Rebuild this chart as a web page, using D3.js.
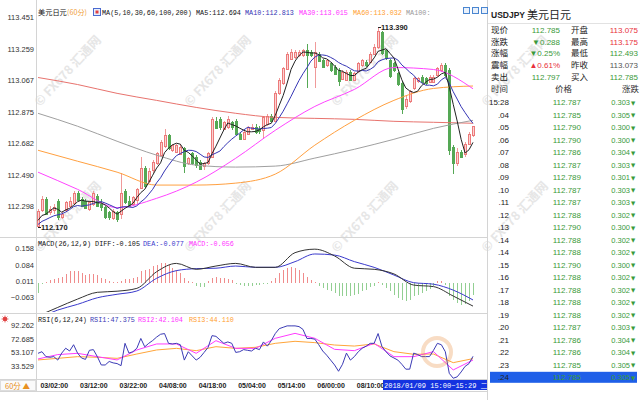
<!DOCTYPE html>
<html>
<head>
<meta charset="utf-8">
<script src="https://cdn.jsdelivr.net/npm/d3@7"></script>
<style>
  body { margin: 0; background: #fff; }
  svg { display: block; }
</style>
</head>
<body>
<svg width="640" height="400"></svg>
<script>
const svg = d3.select('svg');

// ---- hourly candles, 03/01:00 .. 09/15:00 ----
const opens = [
  112.18,112.27,112.34,112.26,112.27,112.33,112.23,112.27,112.30,112.32,
  112.38,112.34,112.33,112.28,112.31,112.36,112.31,112.29,112.26,112.23,
  112.26,112.25,112.39,112.33,112.31,112.33,112.41,112.53,112.45,112.52,
  112.56,112.61,112.66,112.73,112.64,112.63,112.62,112.65,112.56,112.62,
  112.60,112.57,112.54,112.56,112.60,112.82,112.83,112.77,112.78,112.81,
  112.82,112.74,112.71,112.74,112.77,112.78,112.77,112.76,112.80,112.85,
  112.82,112.99,113.05,113.14,113.20,113.21,113.22,113.22,113.25,113.24,
  113.15,113.23,113.19,113.16,113.17,113.15,113.13,113.08,113.07,113.12,
  113.07,113.12,113.16,113.18,113.18,113.23,113.27,113.36,113.25,113.19,
  113.17,113.11,113.05,112.91,112.94,113.02,113.06,113.09,113.08,113.06,
  113.06,113.10,113.13,113.16,113.13,112.66,112.56,112.63,112.62,112.68,112.73];
const highs = [
  112.28,112.36,112.35,112.30,112.31,112.34,112.27,112.33,112.35,112.39,
  112.39,112.35,112.34,112.33,112.39,112.37,112.34,112.30,112.27,112.28,
  112.27,112.50,112.40,112.36,112.36,112.41,112.60,112.54,112.53,112.58,
  112.63,112.70,112.77,112.74,112.68,112.68,112.68,112.66,112.60,112.63,
  112.61,112.58,112.57,112.63,112.84,112.84,112.84,112.82,112.85,112.82,
  112.83,112.75,112.76,112.79,112.80,112.80,112.79,112.85,112.86,112.86,
  113.00,113.08,113.15,113.24,113.26,113.25,113.25,113.26,113.29,113.25,
  113.30,113.24,113.20,113.20,113.18,113.16,113.14,113.13,113.13,113.13,
  113.12,113.18,113.20,113.19,113.24,113.29,113.39,113.37,113.26,113.20,
  113.18,113.12,113.06,112.97,113.01,113.09,113.09,113.10,113.09,113.10,
  113.10,113.15,113.175,113.17,113.14,112.67,112.65,112.64,112.69,112.75,112.79];
const lows = [
  112.17,112.26,112.24,112.24,112.25,112.21,112.22,112.26,112.29,112.31,
  112.33,112.29,112.28,112.27,112.30,112.29,112.27,112.22,112.21,112.21,
  112.20,112.22,112.31,112.29,112.30,112.31,112.40,112.41,112.44,112.50,
  112.55,112.60,112.65,112.64,112.63,112.62,112.61,112.50,112.55,112.55,
  112.53,112.52,112.52,112.55,112.59,112.77,112.76,112.76,112.77,112.76,
  112.73,112.70,112.70,112.73,112.76,112.74,112.74,112.71,112.79,112.81,
  112.81,112.98,113.04,113.13,113.19,113.20,113.21,113.21,113.02,113.21,
  113.02,113.18,113.14,113.15,113.12,113.10,113.03,113.07,113.06,113.06,
  113.06,113.11,113.15,113.15,113.17,113.22,113.26,113.22,113.19,113.08,
  113.12,113.03,112.86,112.89,112.93,113.01,113.05,113.05,113.04,113.05,
  113.05,113.09,113.12,113.09,112.61,112.493,112.54,112.59,112.60,112.67,112.72];
const closes = [
  112.27,112.34,112.25,112.28,112.29,112.23,112.25,112.32,112.33,112.38,
  112.34,112.30,112.29,112.32,112.38,112.30,112.29,112.23,112.23,112.27,
  112.22,112.38,112.32,112.30,112.35,112.40,112.53,112.42,112.51,112.57,
  112.62,112.69,112.73,112.65,112.67,112.67,112.66,112.54,112.59,112.56,
  112.55,112.53,112.56,112.62,112.83,112.78,112.78,112.81,112.83,112.78,
  112.74,112.71,112.75,112.78,112.78,112.75,112.76,112.84,112.85,112.82,
  112.99,113.07,113.14,113.23,113.24,113.24,113.24,113.25,113.22,113.22,
  113.24,113.19,113.15,113.19,113.13,113.11,113.06,113.12,113.12,113.07,
  113.11,113.17,113.19,113.16,113.23,113.27,113.37,113.23,113.20,113.09,
  113.13,113.04,112.89,112.95,113.00,113.08,113.08,113.06,113.05,113.09,
  113.09,113.14,113.16,113.10,112.64,112.56,112.63,112.60,112.68,112.74,112.785];
// closes of the 9 hours before the window (for MA5 / MA10 warm-up)
const priorCloses = [112.15,112.14,112.16,112.18,112.17,112.19,112.21,112.18,112.20];

// long moving averages, read every 10 candles
const maIdx = [0,10,20,30,40,50,60,70,80,90,100,110];
const ma30  = [112.505,112.400,112.288,112.345,112.444,112.590,112.761,112.907,113.011,113.145,113.133,113.015];
const ma60  = [112.639,112.572,112.505,112.426,112.426,112.438,112.493,112.670,112.822,112.944,113.017,113.032];
const ma100 = [112.865,112.786,112.694,112.609,112.548,112.536,112.542,112.591,112.645,112.706,112.773,112.822];
const ma200 = [113.084,113.041,112.987,112.944,112.901,112.865,112.840,112.834,112.828,112.816,112.810,112.804];

// MACD / RSI smooth lines, read every 5 candles
const subIdx = [0,5,10,15,20,25,30,35,40,45,50,55,60,65,70,75,80,85,90,95,100,105,110];
const diffLine = [-0.150,-0.111,-0.073,-0.042,-0.037,-0.024,0.052,0.090,0.063,0.078,0.090,0.072,0.072,0.139,0.155,0.124,0.068,0.063,0.042,-0.009,-0.016,-0.059,-0.105];
const deaLine  = [-0.160,-0.123,-0.097,-0.067,-0.051,-0.036,0.022,0.057,0.066,0.068,0.078,0.072,0.072,0.098,0.133,0.128,0.098,0.072,0.037,0.002,-0.005,-0.032,-0.077];
const macdBars = [
  -0.043,-0.005,0.003,0.015,0.020,0.023,0.030,0.041,0.053,0.057,
  0.053,0.046,0.038,0.043,0.043,0.038,0.023,0.018,0.008,0.005,
  0.003,0.008,0.018,0.020,0.023,0.030,0.053,0.061,0.064,0.076,
  0.084,0.094,0.091,0.084,0.069,0.058,0.046,0.023,0.008,0.003,
  -0.015,-0.018,-0.020,0.008,0.023,0.030,0.023,0.023,0.018,0.012,
  -0.005,-0.008,-0.012,-0.012,-0.011,-0.009,-0.008,-0.005,-0.003,0.008,
  0.023,0.046,0.061,0.069,0.072,0.069,0.061,0.046,0.027,0.015,
  0.006,-0.015,-0.023,-0.030,-0.038,-0.046,-0.058,-0.061,-0.061,-0.058,
  -0.053,-0.049,-0.038,-0.030,-0.018,-0.012,0.003,-0.008,-0.023,-0.038,
  -0.053,-0.069,-0.079,-0.084,-0.076,-0.061,-0.053,-0.046,-0.038,-0.027,
  -0.015,0.008,0.008,-0.008,-0.061,-0.076,-0.091,-0.099,-0.094,-0.084,-0.056];
const rsi1 = [
  51.7,54,47,46,47,42,52,59,55,64,
  52,45,43,56,57,47,35,35,40,38,
  37,34,66,52,54,59,73,61,66,70,
  75,79,80,66,65,66,64,42,54,48,
  42,46,53,60,77,76,71,66,68,66,
  53,54,57,56,55,59,57,68,62,70,
  80,87,89,91,91,91,90,86,73,73,
  72,64,55,49,42,35,26,36,52,42,
  47,54,59,62,66,66,80,61,54,48,
  45,42,36,29,29,52,50,47,47,47,
  56,66,64,54,23,16,18,25,33,37,47.4];
const rsi2 = [43.6,49.9,51.7,46.9,42.2,56.5,65.1,65.1,51.7,69.8,58.8,58.8,73.2,80.3,73.2,57.4,55.5,66.0,46.9,46.9,54.1,27.9,42.1];
const rsi3 = [42.2,44.5,46.9,46.0,44.5,50.7,56.5,58.8,55.5,61.2,58.8,60.3,66.0,68.9,67.0,63.6,62.1,65.1,54.1,50.3,50.7,38.3,44.1];

// axis labels
const priceTicks = [113.451,113.259,113.067,112.875,112.682,112.490,112.298];
const macdTicks = [0.158,0.084,0.011,-0.063];
const rsiTicks = [92.262,72.685,53.107,33.529];
const timeTickIdx = [1,11,21,31,41,51,61,71,81];
const timeTickLabels = ['03/02:00','03/12:00','03/22:00','04/08:00','04/18:00','05/04:00','05/14:00','06/00:00','08/10:00'];

// right-hand quote panel
const quoteNamesL = ['现价','涨跌','涨幅','震幅','卖出'];
const quoteValsL = ['112.785','▼0.288','▼0.25%','▲0.61%','112.797'];
const quoteNamesR = ['开盘','最高','最低','昨收','买入'];
const quoteValsR = ['113.075','113.175','112.493','113.073','112.785'];
const tickTimes = ['15:28','.04','.05','.06','.07','.08','.09','.10','.11','.12','.13','.14','.14','.15','.16','.17','.18','.19','.20','.21','.22','.23','.24'];
const tickPrices = [112.787,112.785,112.790,112.790,112.786,112.787,112.789,112.787,112.787,112.788,112.790,112.788,112.788,112.790,112.788,112.788,112.788,112.788,112.787,112.786,112.786,112.785,112.785];
const tickChanges = [0.303,0.305,0.300,0.300,0.304,0.303,0.301,0.303,0.303,0.302,0.300,0.302,0.302,0.300,0.302,0.302,0.302,0.302,0.303,0.304,0.304,0.305,0.305];

const GREEN = '#3a9a3a', RED = '#e8323c';
const SANS = 'Liberation Sans, Arial, sans-serif';
const MONO = 'Liberation Mono, Noto Sans CJK SC, monospace';
const CJK = 'Noto Sans CJK SC, sans-serif';

// ---- scales ----
const xc = d3.scaleLinear().domain([0, 110]).range([38, 473]);
const yMain = d3.scaleLinear().domain([112.298, 113.451]).range([206, 17.5]);
const yMacd = d3.scaleLinear().domain([-0.063, 0.158]).range([296.9, 248.5]);
const yRsi = d3.scaleLinear().domain([33.529, 92.262]).range([366, 325]);
const px = i => Math.round(xc(i)) + 0.5;

// ---- background watermarks ----
const wm = svg.append('g').attr('fill', '#e6e6e6').attr('font-family', CJK)
  .attr('font-size', 12.5).attr('font-weight', 'bold');
[[40, 107], [190, 107], [337, 107], [487, 107], [40, 253], [190, 253], [337, 253], [487, 253]]
  .forEach(([x, y]) =>
    wm.append('text').attr('transform', `translate(${x},${y}) rotate(-47)`).text('© FX678 汇通网'));

// ---- frame lines ----
const frame = svg.append('g').attr('stroke', '#d4d4d4').attr('shape-rendering', 'crispEdges');
frame.append('line').attr('x1', 36.5).attr('x2', 36.5).attr('y1', 0).attr('y2', 392);
frame.append('line').attr('x1', 487.5).attr('x2', 487.5).attr('y1', 0).attr('y2', 400);
[237.5, 313.5, 379.5, 391.5].forEach(y =>
  frame.append('line').attr('x1', 0).attr('x2', 487).attr('y1', y).attr('y2', y));

// clip regions
const defs = svg.append('defs');
defs.append('clipPath').attr('id', 'clipMain').append('rect').attr('x', 37).attr('y', 0).attr('width', 450).attr('height', 237);
defs.append('clipPath').attr('id', 'clipMacd').append('rect').attr('x', 37).attr('y', 246).attr('width', 450).attr('height', 66);
defs.append('clipPath').attr('id', 'clipRsi').append('rect').attr('x', 37).attr('y', 322).attr('width', 450).attr('height', 57);

// ---- candles ----
const candleData = closes.map((c, i) => ({ i, o: opens[i], h: highs[i], l: lows[i], c }));
const main = svg.append('g').attr('clip-path', 'url(#clipMain)');
const cg = main.append('g').attr('shape-rendering', 'crispEdges');
const upCol = '#ec7a7a', downCol = '#55a855';

cg.selectAll('line.wick').data(candleData).enter().append('line')
  .attr('x1', d => px(d.i)).attr('x2', d => px(d.i))
  .attr('y1', d => yMain(d.h)).attr('y2', d => yMain(d.l))
  .attr('stroke', d => d.c >= d.o ? '#f09a9a' : downCol);

cg.selectAll('rect.body').data(candleData).enter().append('rect')
  .attr('x', d => Math.round(xc(d.i)) - 0.5)
  .attr('width', 2)
  .attr('y', d => Math.round(yMain(Math.max(d.o, d.c))) + 0.5)
  .attr('height', d => Math.max(1, Math.round(Math.abs(yMain(d.o) - yMain(d.c)))))
  .attr('fill', d => d.c >= d.o ? '#fbd3d3' : downCol)
  .attr('stroke', d => d.c >= d.o ? upCol : downCol);

// ---- moving averages ----
const allCloses = priorCloses.concat(closes);
const rolling = n => closes.map((c, i) =>
  d3.mean(allCloses.slice(i + priorCloses.length - n + 1, i + priorCloses.length + 1)));
const ma5 = rolling(5), ma10 = rolling(10);

const lineFor = (scale, curve) => d3.line()
  .x(d => xc(d[0])).y(d => scale(d[1])).curve(curve || d3.curveLinear);
const drawLine = (g, pts, scale, color, curve) =>
  g.append('path').datum(pts).attr('fill', 'none').attr('stroke', color)
    .attr('stroke-width', 1).attr('d', lineFor(scale, curve));

const zipIdx = (idx, vals) => vals.map((v, k) => [idx[k], v]);
drawLine(main, zipIdx(maIdx, ma200), yMain, '#e8736e', d3.curveMonotoneX);
drawLine(main, zipIdx(maIdx, ma100), yMain, '#a0a0a0', d3.curveMonotoneX);
drawLine(main, zipIdx(maIdx, ma60), yMain, '#ffa040', d3.curveMonotoneX);
drawLine(main, zipIdx(maIdx, ma30), yMain, '#ff44ff', d3.curveMonotoneX);
drawLine(main, ma10.map((v, i) => [i, v]), yMain, '#3535b5');
drawLine(main, ma5.map((v, i) => [i, v]), yMain, '#222');

// high / low markers
const hiIdx = d3.maxIndex(highs), loIdx = d3.minIndex(lows);
[[hiIdx, highs[hiIdx]], [loIdx, lows[loIdx]]].forEach(([i, v]) => {
  main.append('line').attr('x1', xc(i)).attr('x2', xc(i) + 3)
    .attr('y1', Math.round(yMain(v)) + 0.5).attr('y2', Math.round(yMain(v)) + 0.5)
    .attr('stroke', '#222');
  main.append('text').attr('x', xc(i) + 3).attr('y', yMain(v)).attr('dy', '0.35em')
    .attr('font-family', SANS).attr('font-size', 7.5).attr('font-weight', 'bold')
    .attr('fill', '#222').text(d3.format('.3f')(v));
});

// ---- y axes ----
const yAxisAt = (scale, ticks) => {
  const g = svg.append('g').attr('transform', 'translate(35,0)')
    .call(d3.axisLeft(scale).tickValues(ticks).tickFormat(d3.format('.3f')).tickSize(0).tickPadding(1));
  g.select('.domain').remove();
  g.selectAll('text').attr('font-family', SANS).attr('font-size', 7.5).attr('fill', '#333');
};
yAxisAt(yMain, priceTicks);
yAxisAt(yMacd, macdTicks);
yAxisAt(yRsi, rsiTicks);

// ---- main header ----
const header = (x, y, str, color, font) =>
  svg.append('text').attr('x', x).attr('y', y).attr('font-family', font || MONO)
    .attr('font-size', 6.8).attr('fill', color).text(str);
header(38, 15, '美元日元', '#111', CJK).attr('font-size', 7.2);
header(67, 15, '(60分)', '#f0a040', CJK).attr('font-size', 7.2);
svg.append('rect').attr('x', 93.5).attr('y', 8.5).attr('width', 7).attr('height', 7)
  .attr('fill', '#e8eefc').attr('stroke', '#4a6ad0');
svg.append('rect').attr('x', 95.5).attr('y', 10.5).attr('width', 3).attr('height', 3).attr('fill', '#e04040');
header(102, 15, 'MA(5,10,30,60,100,200)', '#111');
header(196, 15, 'MA5:112.694', '#111');
header(245, 15, 'MA10:112.813', '#3535b5');
header(299, 15, 'MA30:113.015', '#ff33ff');
header(353, 15, 'MA60:113.032', '#ffa030');
header(406, 15, 'MA100:', '#999');
[463, 472, 481].forEach(x => svg.append('rect').attr('x', x + 0.5).attr('y', 7.5)
  .attr('width', 6).attr('height', 6).attr('fill', '#eaf1fb').attr('stroke', '#4a86d0'));

// ---- MACD panel ----
const macdG = svg.append('g').attr('clip-path', 'url(#clipMacd)');
macdG.append('g').attr('shape-rendering', 'crispEdges').selectAll('line')
  .data(macdBars).enter().append('line')
  .attr('x1', (d, i) => px(i)).attr('x2', (d, i) => px(i))
  .attr('y1', yMacd(0)).attr('y2', d => yMacd(d))
  .attr('stroke', d => d >= 0 ? '#f08c8c' : '#92cf92');
drawLine(macdG, zipIdx(subIdx, deaLine), yMacd, '#3a3acc', d3.curveMonotoneX);
drawLine(macdG, zipIdx(subIdx, diffLine), yMacd, '#333', d3.curveMonotoneX);
header(38, 245.5, 'MACD(26,12,9) DIFF:-0.105', '#111');
header(143, 245.5, 'DEA:-0.077', '#3a3acc');
header(189, 245.5, 'MACD:-0.056', '#ff33ff');

// ---- RSI panel ----
const rsiG = svg.append('g').attr('clip-path', 'url(#clipRsi)');
drawLine(rsiG, zipIdx(subIdx, rsi3), yRsi, '#ffa53a');
drawLine(rsiG, zipIdx(subIdx, rsi2), yRsi, '#ff3cff');
drawLine(rsiG, rsi1.map((v, i) => [i, v]), yRsi, '#3b3bb5');
header(38, 322, 'RSI(6,12,24)', '#111');
header(90, 322, 'RSI1:47.375', '#3b3bb5');
header(138, 322, 'RSI2:42.104', '#ff33ff');
header(189, 322, 'RSI3:44.110', '#ffa030');
// little sun icon
const sun = svg.append('g').attr('stroke', '#e04040');
sun.append('circle').attr('cx', 5).attr('cy', 319).attr('r', 1.8).attr('fill', '#e04040');
[0, 45, 90, 135].forEach(a => {
  const r = a * Math.PI / 180;
  sun.append('line').attr('x1', 5 - 3.5 * Math.cos(r)).attr('x2', 5 + 3.5 * Math.cos(r))
    .attr('y1', 319 - 3.5 * Math.sin(r)).attr('y2', 319 + 3.5 * Math.sin(r)).attr('stroke-width', 0.7);
});

// ---- time axis ----
const xAxisG = svg.append('g').attr('transform', 'translate(0,383)')
  .call(d3.axisBottom(xc).tickValues(timeTickIdx).tickFormat((d, k) => timeTickLabels[k]).tickSize(0).tickPadding(0));
xAxisG.select('.domain').remove();
xAxisG.selectAll('text').attr('text-anchor', 'start').attr('x', -2)
  .attr('font-family', SANS).attr('font-size', 7).attr('font-weight', 'bold').attr('fill', '#222');

svg.append('rect').attr('x', 0.5).attr('y', 380.5).attr('width', 35).attr('height', 10)
  .attr('fill', '#fafafa').attr('stroke', '#ddd');
svg.append('text').attr('x', 5).attr('y', 389).attr('font-family', CJK).attr('font-size', 7.5)
  .attr('fill', '#e89020').text('60分 ▲');

svg.append('rect').attr('x', 383).attr('y', 380).attr('width', 104).attr('height', 10).attr('fill', '#1433e0');
svg.append('text').attr('x', 384).attr('y', 388).attr('font-family', MONO).attr('font-size', 7)
  .attr('fill', '#fff').text('2018/01/09 15:00~15:29 二');

// faint site logo ring, bottom right
svg.append('circle').attr('cx', 437).attr('cy', 352).attr('r', 14).attr('fill', 'none')
  .attr('stroke', '#e88a3c').attr('stroke-width', 4).attr('opacity', 0.3);

// ---- right quote panel ----
const rp = svg.append('g');
rp.append('text').attr('x', 491).attr('y', 18).attr('font-family', SANS).attr('font-size', 8.5)
  .attr('font-weight', 'bold').attr('fill', '#222').text('USDJPY');
rp.append('text').attr('x', 527).attr('y', 19).attr('font-family', CJK).attr('font-size', 11)
  .attr('fill', '#222').text('美元日元');
rp.append('line').attr('x1', 488).attr('x2', 640).attr('y1', 23.5).attr('y2', 23.5).attr('stroke', '#e2e2e2');

const quoteColsL = [GREEN, GREEN, GREEN, RED, GREEN];
const quoteColsR = [RED, RED, GREEN, '#555', GREEN];
const rowY = d3.scaleLinear().domain([0, 4]).range([33, 79.8]);
quoteNamesL.forEach((name, k) => {
  rp.append('text').attr('x', 491).attr('y', rowY(k)).attr('font-family', CJK).attr('font-size', 8.5)
    .attr('fill', '#222').text(name);
  rp.append('text').attr('x', 560).attr('y', rowY(k)).attr('text-anchor', 'end').attr('font-family', SANS)
    .attr('font-size', 8).attr('fill', quoteColsL[k]).text(quoteValsL[k]);
  rp.append('text').attr('x', 571).attr('y', rowY(k)).attr('font-family', CJK).attr('font-size', 8.5)
    .attr('fill', '#222').text(quoteNamesR[k]);
  rp.append('text').attr('x', 638).attr('y', rowY(k)).attr('text-anchor', 'end').attr('font-family', SANS)
    .attr('font-size', 8).attr('fill', quoteColsR[k]).text(quoteValsR[k]);
});

[['时间', 491], ['价格', 555], ['涨跌', 622]].forEach(([t, x]) =>
  rp.append('text').attr('x', x).attr('y', 92).attr('font-family', CJK).attr('font-size', 8.5)
    .attr('fill', '#333').text(t));

const tickY = d3.scaleLinear().domain([0, tickTimes.length - 1]).range([102.3, 377.3]);
rp.append('rect').attr('x', 490).attr('y', tickY(tickTimes.length - 1) - 5.5).attr('width', 147)
  .attr('height', 11).attr('fill', '#1f5fe8');
tickTimes.forEach((t, k) => {
  const y = tickY(k) + 3;
  rp.append('text').attr('x', 509).attr('y', y).attr('text-anchor', 'end').attr('font-family', SANS)
    .attr('font-size', 8).attr('fill', '#222').text(t);
  rp.append('text').attr('x', 581).attr('y', y).attr('text-anchor', 'end').attr('font-family', SANS)
    .attr('font-size', 8).attr('fill', GREEN).text(d3.format('.3f')(tickPrices[k]));
  rp.append('text').attr('x', 630).attr('y', y).attr('text-anchor', 'end').attr('font-family', SANS)
    .attr('font-size', 7.5).attr('fill', GREEN).text(d3.format('.3f')(tickChanges[k]));
  rp.append('text').attr('x', 631).attr('y', y - 0.5).attr('font-family', 'DejaVu Sans')
    .attr('font-size', 5.5).attr('fill', GREEN).text('▼');
});
</script>
</body>
</html>
